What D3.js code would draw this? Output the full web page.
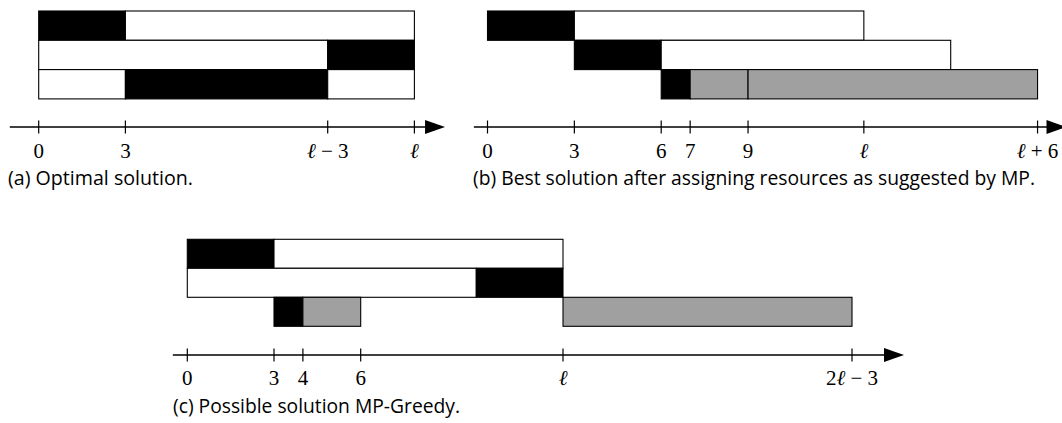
<!DOCTYPE html>
<html>
<head>
<meta charset="utf-8">
<script src="https://cdn.jsdelivr.net/npm/d3@7/dist/d3.min.js"></script>
<style>
  html, body { margin: 0; padding: 0; background: #fff; }
  svg { display: block; }
</style>
</head>
<body>
<svg id="chart" width="1062" height="423"></svg>
<script>
// ---------------- data ----------------
const ELL = 13; // schematic value used for ℓ

// panel (a) Optimal solution
const barsA = [
  { row: 0, start: 0, end: 3, kind: "black" },
  { row: 0, start: 3, end: ELL, kind: "white" },
  { row: 1, start: 0, end: ELL - 3, kind: "white" },
  { row: 1, start: ELL - 3, end: ELL, kind: "black" },
  { row: 2, start: 0, end: 3, kind: "white" },
  { row: 2, start: 3, end: ELL - 3, kind: "black" },
  { row: 2, start: ELL - 3, end: ELL, kind: "white" }
];
const ticksA = [0, 3, ELL - 3, ELL];
const tickLabelsA = ["0", "3", "ℓ − 3", "ℓ"];
const axisA = [-1, ELL + 1.06];
const captionA = "(a) Optimal solution.";

// panel (b) Best solution after assigning resources as suggested by MP
const barsB = [
  { row: 0, start: 0, end: 3, kind: "black" },
  { row: 0, start: 3, end: ELL, kind: "white" },
  { row: 1, start: 3, end: 6, kind: "black" },
  { row: 1, start: 6, end: ELL + 3, kind: "white" },
  { row: 2, start: 6, end: 7, kind: "black" },
  { row: 2, start: 7, end: 9, kind: "gray" },
  { row: 2, start: 9, end: ELL + 6, kind: "gray" }
];
const ticksB = [0, 3, 6, 7, 9, ELL, ELL + 6];
const tickLabelsB = ["0", "3", "6", "7", "9", "ℓ", "ℓ + 6"];
const axisB = [-0.47, ELL + 7];
const captionB = "(b) Best solution after assigning resources as suggested by MP.";

// panel (c) Possible solution MP-Greedy
const barsC = [
  { row: 0, start: 0, end: 3, kind: "black" },
  { row: 0, start: 3, end: ELL, kind: "white" },
  { row: 1, start: 0, end: ELL - 3, kind: "white" },
  { row: 1, start: ELL - 3, end: ELL, kind: "black" },
  { row: 2, start: 3, end: 4, kind: "black" },
  { row: 2, start: 4, end: 6, kind: "gray" },
  { row: 2, start: ELL, end: 2 * ELL - 3, kind: "gray" }
];
const ticksC = [0, 3, 4, 6, ELL, 2 * ELL - 3];
const tickLabelsC = ["0", "3", "4", "6", "ℓ", "2ℓ − 3"];
const axisC = [-0.5, 2 * ELL - 3 + 1.8];
const captionC = "(c) Possible solution MP-Greedy.";

// ---------------- drawing ----------------
const fills = { black: "#000000", white: "#ffffff", gray: "#a0a0a0" };
const svg = d3.select("#chart");

function addMathLabel(sel, label) {
  // render ℓ in italic, everything else upright
  const parts = label.split(/(ℓ)/).filter(p => p.length);
  parts.forEach(p => {
    sel.append("tspan")
      .attr("font-style", p === "ℓ" ? "italic" : "normal")
      .text(p);
  });
}

function drawPanel(cfg) {
  const x = d3.scaleLinear().domain([0, 10]).range([cfg.x0, cfg.x0 + 10 * cfg.unit]);
  const y = d3.scaleLinear().domain([0, 3]).range([cfg.top, cfg.top + 3 * cfg.rowH]);
  const g = svg.append("g");

  g.selectAll("rect.seg").data(cfg.bars).join("rect")
    .attr("class", "seg")
    .attr("x", d => x(d.start))
    .attr("y", d => y(d.row))
    .attr("width", d => x(d.end) - x(d.start))
    .attr("height", d => y(d.row + 1) - y(d.row))
    .attr("fill", d => fills[d.kind])
    .attr("stroke", "#000")
    .attr("stroke-width", 1.1);

  // axis line with arrow
  const ay = cfg.axisY;
  const tip = x(cfg.axis[1]);
  const arrowLen = 20, arrowHalf = 7;
  g.append("line")
    .attr("x1", x(cfg.axis[0])).attr("x2", tip - arrowLen + 2)
    .attr("y1", ay).attr("y2", ay)
    .attr("stroke", "#000").attr("stroke-width", 1.3);
  g.append("path")
    .attr("d", `M${tip},${ay} L${tip - arrowLen},${ay - arrowHalf} L${tip - arrowLen},${ay + arrowHalf} Z`)
    .attr("fill", "#000");

  // ticks
  g.selectAll("line.tick").data(cfg.ticks).join("line")
    .attr("class", "tick")
    .attr("x1", d => x(d)).attr("x2", d => x(d))
    .attr("y1", ay - 6.5).attr("y2", ay + 6.5)
    .attr("stroke", "#000").attr("stroke-width", 1.2);

  g.selectAll("text.tl").data(cfg.ticks).join("text")
    .attr("class", "tl")
    .attr("x", d => x(d))
    .attr("y", cfg.labelY)
    .attr("text-anchor", "middle")
    .attr("font-family", "'Liberation Serif', 'DejaVu Serif', serif")
    .attr("font-size", 21)
    .attr("fill", "#000")
    .each(function (d, i) { addMathLabel(d3.select(this), cfg.labels[i]); });

  svg.append("text")
    .attr("x", cfg.capX)
    .attr("y", cfg.capY)
    .attr("font-family", "'Open Sans', 'Noto Sans', sans-serif")
    .attr("font-size", 20)
    .attr("fill", "#000")
    .attr("textLength", cfg.capW)
    .attr("lengthAdjust", "spacingAndGlyphs")
    .text(cfg.caption);
}

drawPanel({ bars: barsA, ticks: ticksA, labels: tickLabelsA, axis: axisA, caption: captionA,
  x0: 38.7, unit: 28.9, top: 11, rowH: 29.3, axisY: 127, labelY: 158,
  capX: 8, capY: 185, capW: 185 });
drawPanel({ bars: barsB, ticks: ticksB, labels: tickLabelsB, axis: axisB, caption: captionB,
  x0: 487.5, unit: 28.95, top: 11, rowH: 29.3, axisY: 127, labelY: 158,
  capX: 473, capY: 185, capW: 562 });
drawPanel({ bars: barsC, ticks: ticksC, labels: tickLabelsC, axis: axisC, caption: captionC,
  x0: 187.3, unit: 28.9, top: 239.3, rowH: 29, axisY: 355, labelY: 385,
  capX: 173, capY: 413, capW: 287 });
</script>
</body>
</html>
